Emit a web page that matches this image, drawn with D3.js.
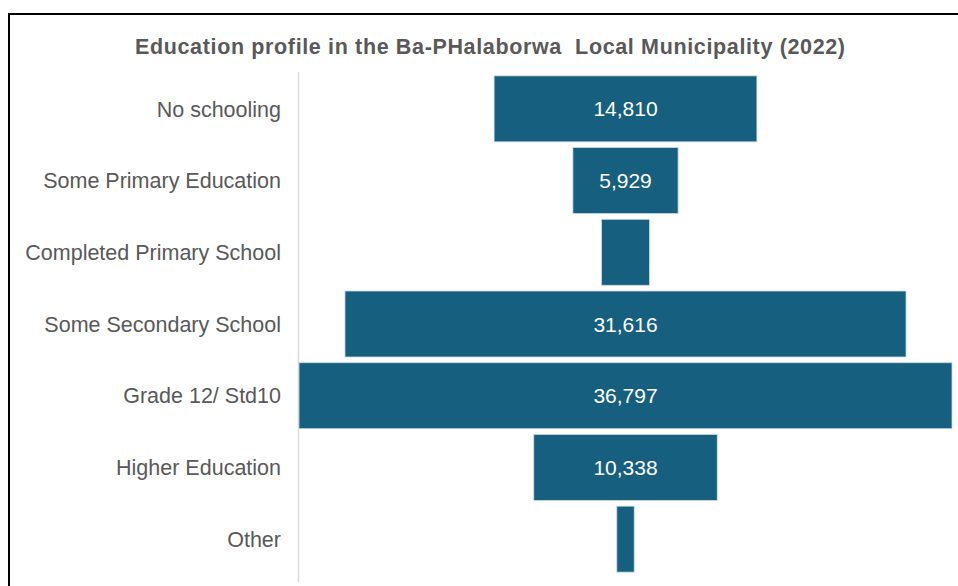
<!DOCTYPE html>
<html>
<head>
<meta charset="utf-8">
<script src="https://cdn.jsdelivr.net/npm/d3@7"></script>
<style>
  html, body { margin: 0; padding: 0; background: #fff; }
  svg { display: block; }
</style>
</head>
<body>
<svg id="chart" width="958" height="586"></svg>
<script>
const categories = ["No schooling", "Some Primary Education", "Completed Primary School", "Some Secondary School", "Grade 12/ Std10", "Higher Education", "Other"];
const values = [14810, 5929, 2700, 31616, 36797, 10338, 980];
const showValue = [true, true, false, true, true, true, false];
const title = "Education profile in the Ba-PHalaborwa  Local Municipality (2022)";

const W = 958, H = 586;
const svg = d3.select("#chart");

// outer frame
svg.append("rect").attr("x", 9).attr("y", 14).attr("width", 980).attr("height", 600)
  .attr("fill", "#fff").attr("stroke", "#000").attr("stroke-width", 2);

svg.append("text").attr("x", 490).attr("y", 54).attr("text-anchor", "middle")
  .attr("font-family", "Liberation Sans, Arial, sans-serif").attr("font-weight", "bold")
  .attr("font-size", 21.5).attr("fill", "#595959")
  .attr("textLength", 710).attr("lengthAdjust", "spacing")
  .style("white-space", "pre").text(title);

const axisX = 298.5, center = 625.5;
const y = d3.scaleBand().domain(categories).range([73, 575]).paddingInner(0.08).paddingOuter(0.04);
const w = d3.scaleLinear().domain([0, d3.max(values)]).range([0, 653]);

svg.append("line").attr("x1", axisX).attr("x2", axisX).attr("y1", 72).attr("y2", 582)
  .attr("stroke", "#d9d9d9").attr("stroke-width", 1.5);

const data = categories.map((c, i) => ({ c, v: values[i], show: showValue[i] }));

svg.selectAll("rect.bar").data(data).join("rect").attr("class", "bar")
  .attr("x", d => center - w(d.v) / 2).attr("width", d => w(d.v))
  .attr("y", d => y(d.c)).attr("height", y.bandwidth())
  .attr("fill", "#175f7f").attr("stroke", "#c9dbe4").attr("stroke-width", 0.8);

svg.selectAll("text.val").data(data.filter(d => d.show)).join("text").attr("class", "val")
  .attr("x", center).attr("y", d => y(d.c) + y.bandwidth() / 2).attr("dy", "0.36em")
  .attr("text-anchor", "middle").attr("font-family", "Liberation Sans, Arial, sans-serif")
  .attr("font-size", 21).attr("fill", "#fff").text(d => d3.format(",")(d.v));

svg.selectAll("text.cat").data(data).join("text").attr("class", "cat")
  .attr("x", 281).attr("y", d => y(d.c) + y.bandwidth() / 2).attr("dy", "0.36em")
  .attr("text-anchor", "end").attr("font-family", "Liberation Sans, Arial, sans-serif")
  .attr("font-size", 21.5).attr("fill", "#595959").text(d => d.c);
</script>
</body>
</html>
